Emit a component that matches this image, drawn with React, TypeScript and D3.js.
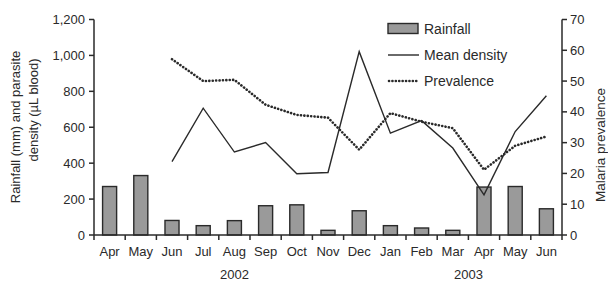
import React from 'react';
import * as d3 from 'd3';

const months = ['Apr', 'May', 'Jun', 'Jul', 'Aug', 'Sep', 'Oct', 'Nov', 'Dec', 'Jan', 'Feb', 'Mar', 'Apr', 'May', 'Jun'];
const years = [
  { label: '2002', from: 0, to: 8 },
  { label: '2003', from: 9, to: 14 },
];
const rainfall = [270, 331, 81, 52, 80, 163, 168, 26, 135, 52, 39, 26, 267, 270, 146];
const density = [null, null, 409, 706, 462, 515, 341, 348, 1021, 567, 637, 484, 224, 576, 775];
const prevalence = [null, null, 57.1, 50.0, 50.4, 42.3, 39.0, 38.1, 27.7, 39.6, 36.8, 34.7, 21.2, 29.0, 32.0];
const leftTicks = [0, 200, 400, 600, 800, 1000, 1200];
const rightTicks = [0, 10, 20, 30, 40, 50, 60, 70];

const W = 608;
const H = 282;
const margin = { top: 19.5, right: 46, bottom: 47, left: 94 };
const ink = '#2a2a2a';
const font = 'Liberation Sans, Arial, sans-serif';

export default function App() {
  const plotW = W - margin.left - margin.right;
  const plotH = H - margin.top - margin.bottom;

  const idx = months.map((_, i) => i);
  const x = d3.scaleBand<number>().domain(idx).range([0, plotW]);
  const yL = d3.scaleLinear().domain([0, 1200]).range([plotH, 0]);
  const yR = d3.scaleLinear().domain([0, 70]).range([plotH, 0]);
  const cx = (i: number) => (x(i) as number) + x.bandwidth() / 2;
  const barW = x.bandwidth() * 0.45;

  const densityLine = d3.line<number | null>()
    .defined(d => d != null)
    .x((_, i) => cx(i))
    .y(d => yL(d as number));
  const prevLine = d3.line<number | null>()
    .defined(d => d != null)
    .x((_, i) => cx(i))
    .y(d => yR(d as number));

  const bounds = idx.map(i => x(i) as number).concat([plotW]);

  return (
    <svg width={W} height={H} style={{ position: 'absolute', left: 0, top: 0, background: '#fff' }}
      fontFamily={font} fill={ink}>
      <g transform={`translate(${margin.left},${margin.top})`}>
        {/* bars */}
        {rainfall.map((v, i) => (
          <rect key={i} x={cx(i) - barW / 2} y={yL(v)} width={barW} height={plotH - yL(v)}
            fill="#9a9a9a" stroke={ink} strokeWidth={1.4} />
        ))}
        {/* lines */}
        <path d={densityLine(density) || ''} fill="none" stroke={ink} strokeWidth={1.4} />
        <path d={prevLine(prevalence) || ''} fill="none" stroke={ink} strokeWidth={2.6}
          strokeDasharray="0.1 3.3" strokeLinecap="round" />

        {/* left axis */}
        <line x1={0} x2={0} y1={0} y2={plotH} stroke={ink} strokeWidth={1.5} />
        {leftTicks.map(t => (
          <g key={t} transform={`translate(0,${yL(t)})`}>
            <line x1={-5} x2={0} stroke={ink} strokeWidth={1.5} />
            <text x={-9} dy="0.35em" textAnchor="end" fontSize={13}>{d3.format(',')(t)}</text>
          </g>
        ))}
        {/* right axis */}
        <line x1={plotW} x2={plotW} y1={0} y2={plotH} stroke={ink} strokeWidth={1.5} />
        {rightTicks.map(t => (
          <g key={t} transform={`translate(${plotW},${yR(t)})`}>
            <line x1={0} x2={5} stroke={ink} strokeWidth={1.5} />
            <text x={8} dy="0.35em" textAnchor="start" fontSize={13}>{t}</text>
          </g>
        ))}
        {/* bottom axis */}
        <line x1={0} x2={plotW} y1={plotH} y2={plotH} stroke={ink} strokeWidth={1.5} />
        {bounds.map((b, i) => (
          <line key={i} x1={b} x2={b} y1={plotH} y2={plotH + 5} stroke={ink} strokeWidth={1.5} />
        ))}
        {months.map((m, i) => (
          <text key={i} x={cx(i)} y={plotH + 21} textAnchor="middle" fontSize={13}>{m}</text>
        ))}
        {years.map(yr => (
          <text key={yr.label} x={(cx(yr.from) + cx(yr.to)) / 2} y={plotH + 44} textAnchor="middle" fontSize={13}>
            {yr.label}
          </text>
        ))}

        {/* legend */}
        <g transform={`translate(${388 - margin.left},0)`}>
          <rect x={0} y={23.5 - margin.top} width={30} height={10} fill="#9a9a9a" stroke={ink} strokeWidth={1.4} />
          <text x={36} y={33.5 - margin.top} fontSize={14}>Rainfall</text>
          <line x1={0} x2={31} y1={55 - margin.top} y2={55 - margin.top} stroke={ink} strokeWidth={1.4} />
          <text x={36} y={59.5 - margin.top} fontSize={14}>Mean density</text>
          <line x1={1} x2={31} y1={81 - margin.top} y2={81 - margin.top} stroke={ink} strokeWidth={2.6}
            strokeDasharray="0.1 3.3" strokeLinecap="round" />
          <text x={36} y={85.5 - margin.top} fontSize={14}>Prevalence</text>
        </g>
      </g>

      {/* axis titles */}
      <text transform="translate(17,127) rotate(-90)" textAnchor="middle" dominantBaseline="middle" fontSize={13}>
        Rainfall (mm) and parasite
      </text>
      <text transform="translate(35,110) rotate(-90)" textAnchor="middle" dominantBaseline="middle" fontSize={13}>
        density (µL blood)
      </text>
      <text transform="translate(601,145) rotate(-90)" textAnchor="middle" dominantBaseline="middle" fontSize={13.5}>
        Malaria prevalence
      </text>
    </svg>
  );
}
